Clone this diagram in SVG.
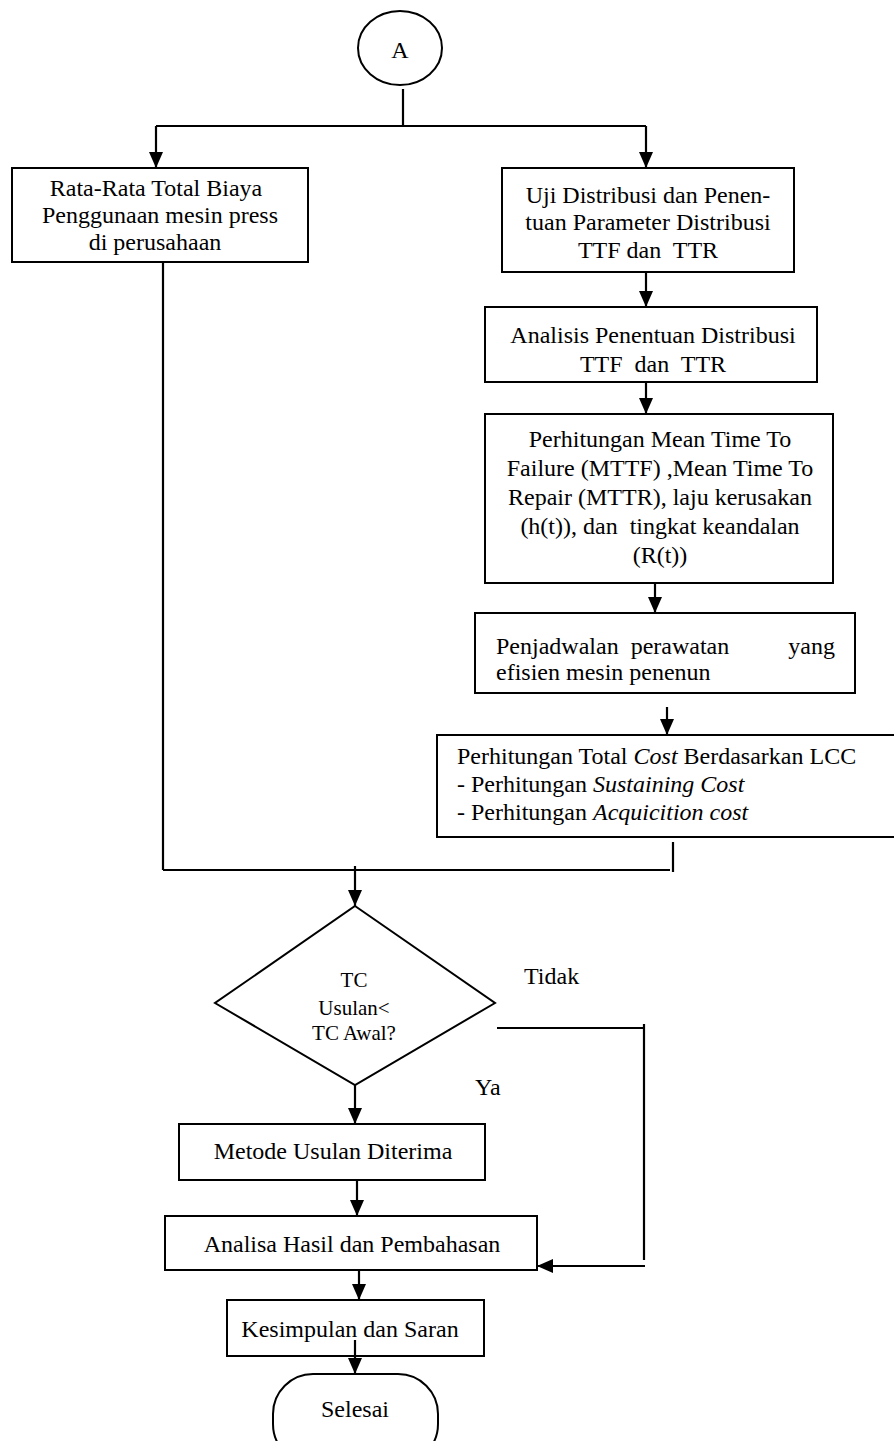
<svg xmlns="http://www.w3.org/2000/svg" width="894" height="1441" viewBox="0 0 894 1441">
<style>
.box{fill:#fff;stroke:#000;stroke-width:2}
.ln{fill:none;stroke:#000;stroke-width:2.2}
.t{font-family:"Liberation Serif","Times New Roman",serif;font-size:24px;fill:#000}
.s{font-family:"Liberation Serif","Times New Roman",serif;font-size:21px;fill:#000}
.c{text-anchor:middle}
</style>
<defs>
<marker id="arr" markerUnits="userSpaceOnUse" viewBox="0 0 16 14" refX="16" refY="7" markerWidth="16" markerHeight="14" orient="auto">
<path d="M0,0 L16,7 L0,14 z" fill="#000"/>
</marker>
</defs>
<rect width="894" height="1441" fill="#fff"/>
<g id="connectors">
<path class="ln" d="M403,89 V126 M156,126 H646"/>
<path class="ln" d="M156,126 V168" marker-end="url(#arr)"/>
<path class="ln" d="M646,126 V168" marker-end="url(#arr)"/>
<path class="ln" d="M646,272 V307" marker-end="url(#arr)"/>
<path class="ln" d="M646,382 V414" marker-end="url(#arr)"/>
<path class="ln" d="M655,583 V613" marker-end="url(#arr)"/>
<path class="ln" d="M667,707 V735" marker-end="url(#arr)"/>
<path class="ln" d="M673,842 V872 M163,870 H670 M163,262 V870"/>
<path class="ln" d="M355,866 V906" marker-end="url(#arr)"/>
<path class="ln" d="M497,1028 H644 M644,1024 V1260"/>
<path class="ln" d="M645,1266 H537" marker-end="url(#arr)"/>
<path class="ln" d="M355,1085 V1124" marker-end="url(#arr)"/>
<path class="ln" d="M357,1180 V1216" marker-end="url(#arr)"/>
<path class="ln" d="M359,1270 V1300" marker-end="url(#arr)"/>
<path class="ln" d="M355,1346 V1374" marker-end="url(#arr)"/>
</g>
<g id="nodeA">
<ellipse class="box" cx="400" cy="48" rx="42" ry="37"/>
<text class="t c" x="400" y="58">A</text>
</g>
<g id="n-rata">
<rect class="box" x="12" y="168" width="296" height="94"/>
<text class="t c" x="156" y="196">Rata-Rata Total Biaya</text>
<text class="t c" x="160" y="223">Penggunaan mesin press</text>
<text class="t c" x="155" y="250">di perusahaan</text>
</g>
<g id="n-uji">
<rect class="box" x="502" y="168" width="292" height="104"/>
<text class="t c" x="648" y="203">Uji Distribusi dan Penen-</text>
<text class="t c" x="648" y="230">tuan Parameter Distribusi</text>
<text class="t c" x="648" y="258" xml:space="preserve">TTF dan  TTR</text>
</g>
<g id="n-analisis">
<rect class="box" x="485" y="307" width="332" height="75"/>
<text class="t c" x="653" y="343">Analisis Penentuan Distribusi</text>
<text class="t c" x="653" y="372" xml:space="preserve">TTF  dan  TTR</text>
</g>
<g id="n-perhitungan">
<rect class="box" x="485" y="414" width="348" height="169"/>
<text class="t c" x="660" y="447">Perhitungan Mean Time To</text>
<text class="t c" x="660" y="476">Failure (MTTF) ,Mean Time To</text>
<text class="t c" x="660" y="505">Repair (MTTR), laju kerusakan</text>
<text class="t c" x="660" y="534" xml:space="preserve">(h(t)), dan  tingkat keandalan</text>
<text class="t c" x="660" y="563">(R(t))</text>
</g>
<g id="n-penjadwalan">
<rect class="box" x="475" y="613" width="380" height="80"/>
<text class="t" x="496" y="654" xml:space="preserve">Penjadwalan  perawatan</text>
<text class="t" x="835" y="654" text-anchor="end">yang</text>
<text class="t" x="496" y="680">efisien mesin penenun</text>
</g>
<g id="n-lcc">
<rect class="box" x="437" y="735" width="470" height="102"/>
<text class="t" x="457" y="764">Perhitungan Total <tspan font-style="italic">Cost</tspan> Berdasarkan LCC</text>
<text class="t" x="457" y="792">- Perhitungan <tspan font-style="italic">Sustaining Cost</tspan></text>
<text class="t" x="457" y="820">- Perhitungan <tspan font-style="italic">Acquicition cost</tspan></text>
</g>
<g id="n-decision">
<polygon class="box" points="355,906 495,1003 355,1085 215,1003"/>
<text class="s c" x="354" y="987">TC</text>
<text class="s c" x="354" y="1015">Usulan&lt;</text>
<text class="s c" x="354" y="1040">TC Awal?</text>
</g>
<g id="labels">
<text class="t" x="524" y="984">Tidak</text>
<text class="t" x="475" y="1095">Ya</text>
</g>
<g id="n-metode">
<rect class="box" x="179" y="1124" width="306" height="56"/>
<text class="t c" x="333" y="1159">Metode Usulan Diterima</text>
</g>
<g id="n-analisa">
<rect class="box" x="165" y="1216" width="372" height="54"/>
<text class="t c" x="352" y="1252">Analisa Hasil dan Pembahasan</text>
</g>
<g id="n-kesimpulan">
<rect class="box" x="227" y="1300" width="257" height="56"/>
<text class="t c" x="350" y="1337">Kesimpulan dan Saran</text>
</g>
<path class="ln" d="M355,1340 V1356"/>
<g id="n-selesai">
<rect class="box" x="273" y="1374" width="165" height="90" rx="40" ry="40"/>
<text class="t c" x="355" y="1417">Selesai</text>
</g>
</svg>
